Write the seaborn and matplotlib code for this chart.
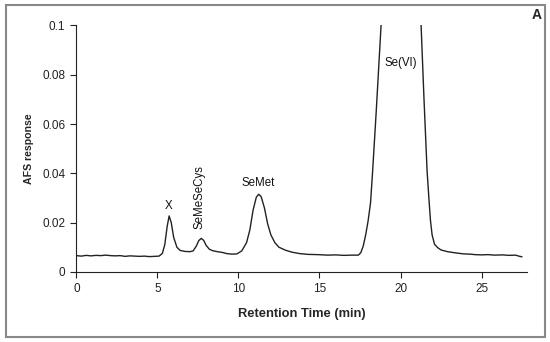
import numpy as np
import pandas as pd
import matplotlib
matplotlib.use("Agg")
import matplotlib.pyplot as plt
import seaborn as sns
from matplotlib.patches import Rectangle

# retention time (min) and AFS response
time_min = [0.0, 0.3, 0.6, 0.9, 1.2, 1.5, 1.8, 2.1, 2.4, 2.7, 3.0, 3.3, 3.6, 3.9,
            4.2, 4.5, 4.8, 5.1, 5.3, 5.45, 5.6, 5.72, 5.85, 6.0, 6.2, 6.4, 6.7,
            7.0, 7.2, 7.4, 7.55, 7.7, 7.85, 8.0, 8.2, 8.4, 8.7, 9.0, 9.3, 9.6,
            9.9, 10.2, 10.5, 10.7, 10.9, 11.1, 11.25, 11.4, 11.6, 11.8, 12.0,
            12.25, 12.5, 12.9, 13.3, 13.8, 14.3, 14.9, 15.5, 16.0, 16.5, 17.0,
            17.4, 17.55, 17.7, 17.85, 18.0, 18.15, 18.28, 18.5, 18.8, 19.2,
            20.0, 20.9, 21.27, 21.45, 21.64, 21.75, 21.85, 21.95, 22.1, 22.3,
            22.5, 22.9, 23.4, 23.9, 24.3, 24.6, 25.0, 25.4, 25.8, 26.3, 26.7,
            27.1, 27.3, 27.5]
afs_response = [0.0066, 0.0064, 0.0067, 0.0065, 0.0067, 0.0066, 0.0068, 0.0066,
                0.0065, 0.0066, 0.0063, 0.0065, 0.0064, 0.0063, 0.0064, 0.0062,
                0.0063, 0.0064, 0.0075, 0.0110, 0.0185, 0.0227, 0.0200, 0.0140,
                0.0100, 0.0087, 0.0083, 0.0082, 0.0085, 0.0105, 0.0127, 0.0136,
                0.0128, 0.0108, 0.0092, 0.0086, 0.0082, 0.0079, 0.0074, 0.0072,
                0.0073, 0.0085, 0.0119, 0.0170, 0.0250, 0.0303, 0.0315, 0.0305,
                0.0260, 0.0195, 0.0150, 0.0118, 0.0100, 0.0088, 0.0080, 0.0074,
                0.0071, 0.0070, 0.0068, 0.0069, 0.0067, 0.0068, 0.0068, 0.0078,
                0.0105, 0.0150, 0.0207, 0.0280, 0.0410, 0.0650, 0.1000, 0.1300,
                0.1600, 0.1300, 0.1000, 0.0700, 0.0410, 0.0300, 0.0207, 0.0150,
                0.0112, 0.0098, 0.0089, 0.0082, 0.0077, 0.0073, 0.0072, 0.0070,
                0.0069, 0.0070, 0.0068, 0.0069, 0.0067, 0.0068, 0.0064, 0.0061]

peak_labels = ["X", "SeMeSeCys", "SeMet", "Se(VI)"]
peak_x = [5.7, 7.6, 11.2, 20.0]
peak_y = [0.0245, 0.0173, 0.0335, 0.0825]
peak_rot = [0, 90, 0, 0]

y_ticks = [0, 0.02, 0.04, 0.06, 0.08, 0.1]
x_ticks = [0, 5, 10, 15, 20, 25]

df = pd.DataFrame({"time": time_min, "afs": afs_response})

sns.set_style("ticks")
plt.rcParams["font.family"] = ["Liberation Sans", "DejaVu Sans"]

fig = plt.figure(figsize=(5.5, 3.42), dpi=100)
ax = fig.add_axes([0.139, 0.205, 0.819, 0.7207])

sns.lineplot(data=df, x="time", y="afs", ax=ax, color="#222222", linewidth=1.0)

ax.set_xlim(0, 27.8)
ax.set_ylim(0, 0.1)
ax.set_xticks(x_ticks)
ax.set_yticks(y_ticks)
ax.set_yticklabels([f"{v:g}" for v in y_ticks])
ax.tick_params(labelsize=8.5, length=4, width=0.8, colors="#222222", pad=4)
sns.despine(ax=ax)
for s in ["left", "bottom"]:
    ax.spines[s].set_color("#222222")
    ax.spines[s].set_linewidth(0.8)

ax.set_xlabel("Retention Time (min)", fontsize=9.3, fontweight="bold", labelpad=9)
ax.set_ylabel("AFS response", fontsize=7.6, fontweight="bold", labelpad=6)

for lab, x, y, r in zip(peak_labels, peak_x, peak_y, peak_rot):
    ax.text(x, y, lab, fontsize=8.3, rotation=r, ha="center", va="bottom", color="#111111")

fig.text(0.976, 0.955, "A", fontsize=10, fontweight="bold", ha="center", va="center")

# grey frame around the whole figure
fig.patches.append(Rectangle((0.01, 0.015), 0.98, 0.97, transform=fig.transFigure,
                             fill=False, edgecolor="#888888", linewidth=1.5))

fig.savefig("out.png", dpi=100)
